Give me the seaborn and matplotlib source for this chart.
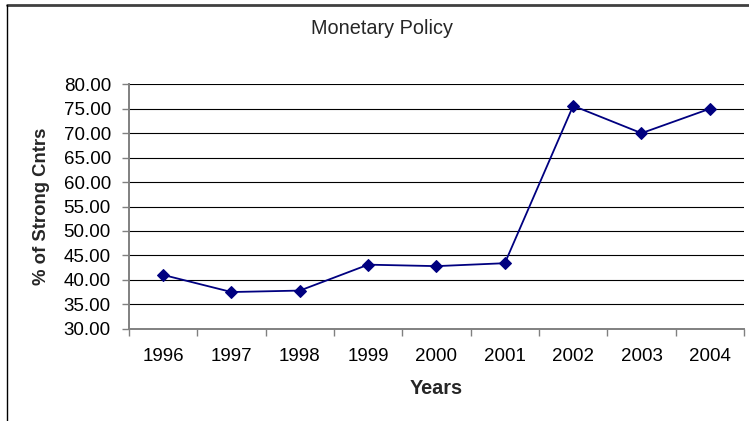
import matplotlib
matplotlib.use("Agg")
import matplotlib.pyplot as plt
from matplotlib.lines import Line2D
from matplotlib.ticker import FixedLocator, FormatStrFormatter
import seaborn as sns
import pandas as pd

years = ["1996", "1997", "1998", "1999", "2000", "2001", "2002", "2003", "2004"]
strong_pct = [41.0, 37.5, 37.8, 43.1, 42.8, 43.4, 75.6, 70.0, 75.0]
y_ticks = [30, 35, 40, 45, 50, 55, 60, 65, 70, 75, 80]

sns.set_theme(style="white")
plt.rcParams["font.family"] = ["Liberation Sans", "DejaVu Sans"]

df = pd.DataFrame({"Years": years, "pct": strong_pct})

fig = plt.figure(figsize=(7.49, 4.21), dpi=100)
fig.patch.set_facecolor("white")
ax = fig.add_axes([129 / 749, 1 - 328.7 / 421, (744 - 129) / 749, (328.7 - 84.3) / 421])

# horizontal grid lines behind the series
for v in y_ticks[1:]:
    ax.axhline(v, color="black", lw=0.8, zorder=1)

sns.lineplot(data=df, x="Years", y="pct", ax=ax, color="#000080", lw=1.3,
             marker="D", markersize=6.5, markeredgecolor="#000080",
             markerfacecolor="#000080", zorder=3)

ax.set_ylim(30, 80)
ax.set_xlim(-0.5, len(years) - 0.5)
ax.set_yticks(y_ticks)
ax.yaxis.set_major_formatter(FormatStrFormatter("%.2f"))
ax.set_xticks(range(len(years)))
ax.set_xticklabels(years)
ax.xaxis.set_minor_locator(FixedLocator([i - 0.5 for i in range(len(years) + 1)]))

ax.tick_params(axis="x", which="major", length=0, pad=14, labelsize=13.5, labelcolor="black")
ax.tick_params(axis="x", which="minor", length=5, width=1, color="#808080", direction="out", bottom=True)
ax.tick_params(axis="y", which="major", length=5, width=1, color="#808080", direction="out",
               left=True, pad=8, labelsize=13.5, labelcolor="black")

for side in ["top", "right"]:
    ax.spines[side].set_visible(False)
for side in ["left", "bottom"]:
    ax.spines[side].set_color("#808080")
    ax.spines[side].set_linewidth(1.4)
ax.set_facecolor("white")

ax.set_xlabel("")
ax.set_ylabel("")
fig.text(436.5 / 749, 1 - 389 / 421, "Years", ha="center", va="center",
         fontsize=14.3, fontweight="bold")
fig.text(41.5 / 749, 1 - 206 / 421, "% of Strong Cntrs", ha="center", va="center",
         rotation=90, fontsize=13.3, fontweight="bold")

fig.text(382 / 749, 1 - 28.5 / 421, "Monetary Policy", ha="center", va="center", fontsize=14.3)

# chart frame edges
fig.add_artist(Line2D([7 / 749, 1], [1 - 4.5 / 421, 1 - 4.5 / 421], color="#404040", lw=2,
                      transform=fig.transFigure))
fig.add_artist(Line2D([7 / 749, 7 / 749], [0, 1 - 4.5 / 421], color="black", lw=1,
                      transform=fig.transFigure))

fig.savefig("out.png", dpi=100, facecolor="white")
